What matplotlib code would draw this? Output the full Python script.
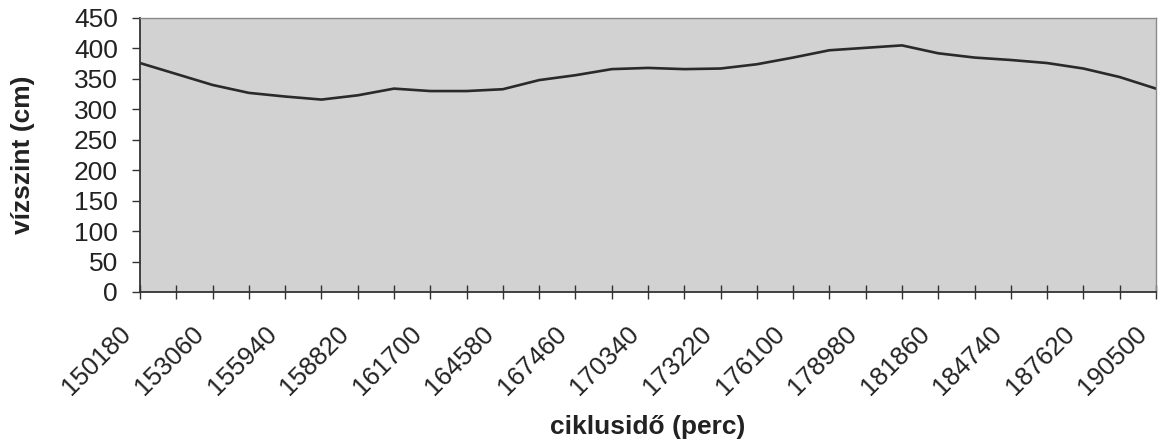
import numpy as np
import matplotlib
matplotlib.use("Agg")
import matplotlib.pyplot as plt
from matplotlib.ticker import FixedLocator
from matplotlib.transforms import ScaledTranslation

plt.rcParams['font.family'] = ['Liberation Sans', 'DejaVu Sans']

# cycle time (minutes), one reading per day
start_min = 150180
step_min = 1440
water_level_cm = [376, 358, 340, 327, 321, 316, 323, 334, 330, 330,
                  333, 348, 356, 366, 368, 366, 367, 374, 385, 397,
                  401, 405, 392, 385, 381, 376, 367, 353, 334]
cycle_time = [start_min + i * step_min for i in range(len(water_level_cm))]

x_tick_labels = [str(v) for v in range(150180, 190501, 2880)]
y_ticks = list(range(0, 451, 50))

fig = plt.figure(figsize=(11.64, 4.43), dpi=100)
ax = fig.add_axes([0.1203, 0.3409, 0.8728, 0.6185])
ax.set_facecolor('#d2d2d2')

ax.plot(cycle_time, water_level_cm, color='#2a2a2a', lw=1.9, solid_joinstyle='round')

ax.set_xlim(cycle_time[0], cycle_time[-1])
ax.set_ylim(0, 450)
ax.set_yticks(y_ticks)
ax.set_xticks([int(v) for v in x_tick_labels])
ax.set_xticklabels(x_tick_labels, rotation=45, ha='right', va='top',
                   rotation_mode='anchor')
ax.xaxis.set_minor_locator(FixedLocator(cycle_time[1::2]))

for s in ['top', 'right']:
    ax.spines[s].set_color('#8a8a8a')
    ax.spines[s].set_linewidth(1.0)
for s in ['left', 'bottom']:
    ax.spines[s].set_color('#333333')
    ax.spines[s].set_linewidth(1.3)

ax.tick_params(axis='y', direction='out', length=6, width=1.0, color='#333333',
               labelsize=19, pad=10, labelcolor='#222222')
ax.tick_params(axis='x', which='both', direction='inout', length=10, width=1.0,
               color='#333333', labelsize=18.5, pad=10, labelcolor='#222222')

# nudge the slanted tick labels so their ends sit just left of each tick
shift = ScaledTranslation(-21 / 100, -9 / 100, fig.dpi_scale_trans)
for lbl in ax.get_xticklabels():
    lbl.set_transform(lbl.get_transform() + shift)

ax.set_ylabel('vízszint (cm)', fontsize=19, fontweight='bold', color='#222222')
ax.yaxis.set_label_coords(-0.103, 0.5)
ax.set_xlabel('ciklusidő (perc)', fontsize=19, fontweight='bold', color='#222222',
              va='center')
ax.xaxis.set_label_coords(0.5, -0.493)

fig.savefig('out.png', dpi=100, facecolor='white')
